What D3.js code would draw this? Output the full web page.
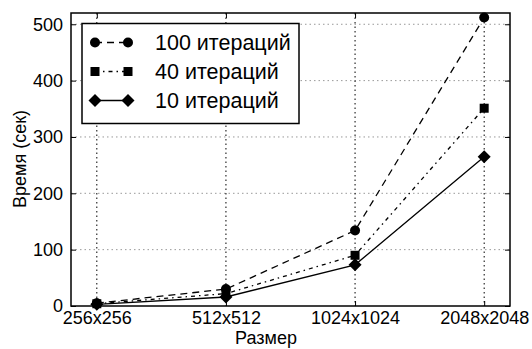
<!DOCTYPE html>
<html><head><meta charset="utf-8">
<script src="https://cdn.jsdelivr.net/npm/d3@7"></script>
<style>body{margin:0;background:#fff}svg{display:block}text{font-family:"Liberation Sans",Arial,sans-serif;fill:#000}</style>
</head><body><svg id="c" width="532" height="349"></svg>
<script>
const categories = ["256x256","512x512","1024x1024","2048x2048"];
const seriesNames = ["100 итераций","40 итераций","10 итераций"];
const values100 = [5, 30, 134, 512];
const values40 = [4, 22, 90, 351];
const values10 = [3, 16, 73, 265];
const yTicks = [0,100,200,300,400,500];
const xLabel = "Размер";
const yLabel = "Время (сек)";

const series = [
  {name: seriesNames[0], values: values100, dash: "7,5", marker: "circle"},
  {name: seriesNames[1], values: values40, dash: "4,4,1.5,4", marker: "square"},
  {name: seriesNames[2], values: values10, dash: null, marker: "diamond"}
];

const svg = d3.select("#c");
const L=71, R=510, T=13, B=306;
const x = d3.scaleLinear().domain([-0.2, categories.length-1+0.2]).range([L,R]);
const y = d3.scaleLinear().domain([0,520]).range([B,T]);

// grid
const g = svg.append("g");
g.selectAll(".hg").data(yTicks.filter(d=>d>0)).join("line")
  .attr("x1",L).attr("x2",R).attr("y1",d=>y(d)).attr("y2",d=>y(d))
  .attr("stroke","#999").attr("stroke-width",1).attr("stroke-dasharray","1.5,3");
g.selectAll(".vg").data(categories.map((c,i)=>i)).join("line")
  .attr("y1",T).attr("y2",B).attr("x1",d=>x(d)).attr("x2",d=>x(d))
  .attr("stroke","#000").attr("stroke-width",1).attr("stroke-dasharray","1.5,3");

// axes
const yAx = d3.axisLeft(y).tickValues(yTicks).tickSize(-5).tickPadding(8);
const yAxR = d3.axisRight(y).tickValues(yTicks).tickSize(-5).tickFormat("");
const xAx = d3.axisBottom(x).tickValues(categories.map((c,i)=>i)).tickFormat(i=>categories[i]).tickSize(-5).tickPadding(5);
const xAxT = d3.axisTop(x).tickValues(categories.map((c,i)=>i)).tickSize(-5).tickFormat("");
function style(sel){sel.select(".domain").remove();sel.selectAll("line").attr("stroke","#000").attr("stroke-width",1);sel.selectAll("text").attr("font-size",18).attr("font-family","Liberation Sans, Arial, sans-serif");}
svg.append("g").attr("transform",`translate(${L},0)`).call(yAx).call(style);
svg.append("g").attr("transform",`translate(${R},0)`).call(yAxR).call(style);
svg.append("g").attr("transform",`translate(0,${B})`).call(xAx).call(style);
svg.append("g").attr("transform",`translate(0,${T})`).call(xAxT).call(style);

// lines
const line = d3.line().x((d,i)=>x(i)).y(d=>y(d));
function marker(sel, type){
  if(type==="circle") sel.append("circle").attr("r",5);
  else if(type==="square") sel.append("rect").attr("x",-4.5).attr("y",-4.5).attr("width",9).attr("height",9);
  else sel.append("path").attr("d","M0,-6.5L6.5,0L0,6.5L-6.5,0Z");
}
series.forEach(s=>{
  svg.append("path").datum(s.values).attr("d",line).attr("fill","none")
    .attr("stroke","#000").attr("stroke-width",1.3).attr("stroke-dasharray",s.dash);
  s.values.forEach((v,i)=>{
    const m = svg.append("g").attr("transform",`translate(${x(i)},${y(v)})`).attr("fill","#000");
    marker(m, s.marker);
  });
});

// frame
svg.append("rect").attr("x",L).attr("y",T).attr("width",R-L).attr("height",B-T)
  .attr("fill","none").attr("stroke","#000").attr("stroke-width",1.5);

// legend
const lg = svg.append("g");
lg.append("rect").attr("x",82).attr("y",23.5).attr("width",217).attr("height",100)
  .attr("fill","#fff").attr("stroke","#000").attr("stroke-width",1.5);
series.forEach((s,i)=>{
  const yy = 42.5 + i*29;
  lg.append("line").attr("x1",95).attr("x2",128).attr("y1",yy).attr("y2",yy)
    .attr("stroke","#000").attr("stroke-width",1.3).attr("stroke-dasharray",s.dash);
  [95,128].forEach(xx=>{ const m=lg.append("g").attr("transform",`translate(${xx},${yy})`); marker(m,s.marker); });
  lg.append("text").attr("x",155).attr("y",yy+7.5).attr("font-size",21.5).text(s.name);
});

// axis labels
svg.append("text").attr("x",266).attr("y",344).attr("text-anchor","middle").attr("font-size",18).text(xLabel);
svg.append("text").attr("transform","translate(26,159) rotate(-90)").attr("text-anchor","middle").attr("font-size",18).text(yLabel);
</script></body></html>
